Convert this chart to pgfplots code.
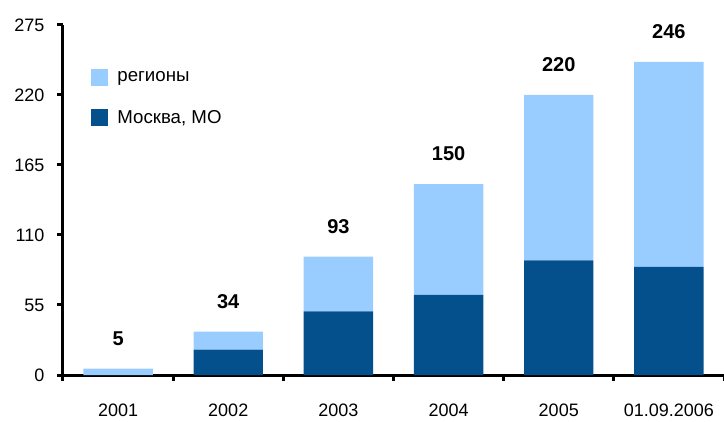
\documentclass[border=0pt]{standalone}
\usepackage{pgfplots}
\pgfplotsset{compat=1.18}
\usepackage{fontspec}
\setmainfont{Liberation Sans}
\definecolor{moscow}{HTML}{04508C}
\definecolor{regions}{HTML}{99CCFF}
\pgfplotsset{base/.style={
    scale only axis,
    width=495.75pt, height=262.5pt,
    xmin=-0.5, xmax=5.5, ymin=0, ymax=275,
    /pgf/number format/assume math mode=true}}
\begin{document}
\begin{tikzpicture}
\begin{axis}[
    base, name=ax,
    ybar stacked, bar width=0.63,
    ytick={0,55,110,165,220,275},
    xtick={-0.5,0.5,...,5.5},
    xticklabels={2001,2002,2003,2004,2005,01.09.2006},
    x tick label as interval,
    axis x line=bottom, axis y line=left,
    axis line style={-, line width=2.25pt, black},
    tick style={line width=2.25pt, black},
    major tick length=4.5pt,
    tick align=outside,
    ticklabel style={font=\fontsize{13.5}{16}\selectfont},
    yticklabel style={xshift=-6pt},
    xticklabel style={yshift=-14pt},
    legend style={at={(0.036,0.883)}, anchor=north west, draw=none, fill=none,
        font=\fontsize{14}{16}\selectfont, row sep=16pt,
        /tikz/every odd column/.append style={column sep=5pt}},
    legend cell align=left,
    reverse legend,
    legend image code/.code={\path[#1,draw=none] (0pt,-6.4pt) rectangle (12.75pt,6.4pt);},
]
\addplot[fill=moscow, draw=none] coordinates {
(0,0) (1,20) (2,50) (3,63) (4,90) (5,85)
};
\addlegendentry{Москва, МО}

\addplot[fill=regions, draw=none] coordinates {
(0,5) (1,14) (2,43) (3,87) (4,130) (5,161)
};
\addlegendentry{регионы}
\end{axis}

% totals above the bars
\begin{axis}[base, hide axis]
\addplot[draw=none, mark=none, point meta=explicit,
    nodes near coords={\pgfmathprintnumber\pgfplotspointmeta},
    every node near coord/.append style={font=\fontsize{15}{17}\selectfont\bfseries, anchor=south, yshift=14pt}]
coordinates {
(0,5) [5] (1,34) [34] (2,93) [93] (3,150) [150] (4,220) [220] (5,246) [246]
};
\end{axis}

\pgfresetboundingbox
\path ([xshift=-47.25pt,yshift=-34.5pt]ax.south west) rectangle ([yshift=18.75pt]ax.north east);
\end{tikzpicture}
\end{document}
